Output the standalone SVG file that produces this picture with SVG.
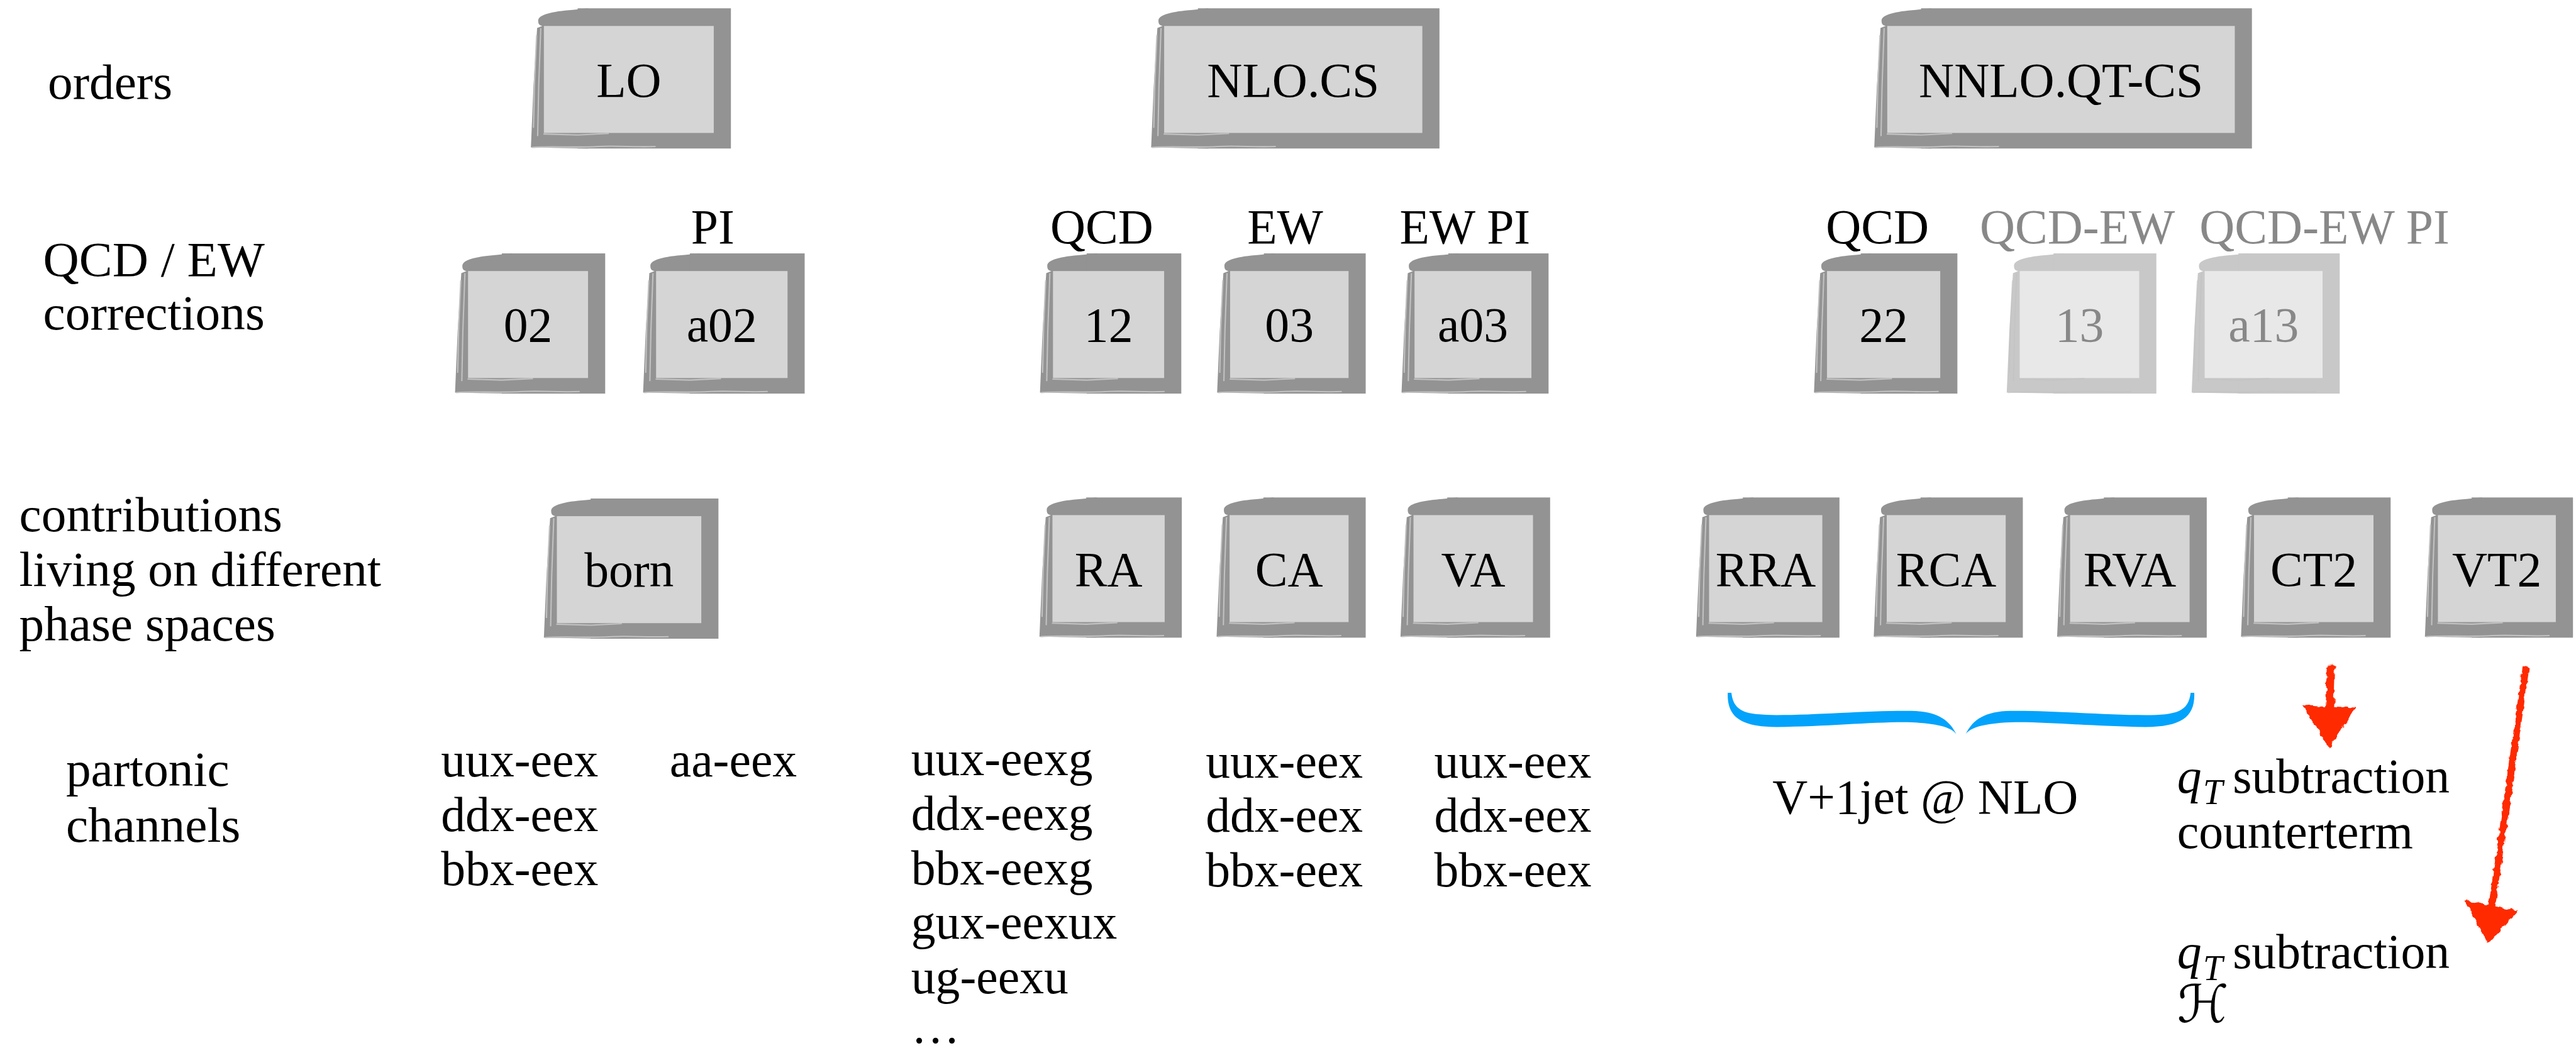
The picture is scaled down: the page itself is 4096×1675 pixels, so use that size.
<svg xmlns="http://www.w3.org/2000/svg" xmlns:xlink="http://www.w3.org/1999/xlink" width="4096" height="1675" viewBox="0 0 4096 1675">
<style>
text{font-family:"Liberation Serif","Times New Roman",serif;font-size:94px;fill:#000}
.lab{font-size:96px}
.bt{text-anchor:middle}
.fd{fill:#888}
.o{fill:#939393}
.i{fill:#d5d5d5}
.o2{fill:#c8c8c8}
.i2{fill:#e8e8e8}
.sk{fill:none;stroke:#c2c2c2;stroke-width:2.5}
.red{fill:#ff2a00}
.redl{fill:none;stroke:#ff2a00;stroke-linecap:round}
.brace{fill:#03a3fb}
</style>
<defs>
<path id="curl" d="M110,0 L80,3 C40,6 14,12 14,24 C14,30 16,33 22,34 L12,38 L5,150 L0,268 L110,270 Z"/>
<g id="skl">
<path class="sk" d="M19,38 L15,150 L13,246"/>
<path class="sk" d="M11,52 L7,140 L5,230"/>
<path class="sk" d="M2,268 C40,265 80,269 130,266 C170,264 200,268 240,266"/>
<path class="sk" d="M24,242 L90,244 L150,241"/>
</g>
<path id="hb" d="M3326,1334 C3324,1380 3350,1400 3420,1400 C3520,1399 3620,1389 3680,1391 C3730,1393 3758,1401 3766,1414 C3752,1385 3728,1370 3680,1369 C3600,1368 3500,1377 3420,1377 C3360,1377 3337,1370 3333,1334 Z"/>
<filter id="rough" x="-30%" y="-5%" width="160%" height="110%">
<feTurbulence type="fractalNoise" baseFrequency="0.09" numOctaves="2" seed="4" result="n"/>
<feDisplacementMap in="SourceGraphic" in2="n" scale="9" xChannelSelector="R" yChannelSelector="G"/>
</filter>
</defs>
<rect width="4096" height="1675" fill="#fff"/>
<g transform="scale(0.826)">
<g id="row-labels">
<text class="lab" x="92" y="190">orders</text>
<text class="lab" x="83" y="531">QCD / EW</text>
<text class="lab" x="83" y="634">corrections</text>
<text class="lab" x="37" y="1023">contributions</text>
<text class="lab" x="37" y="1128">living on different</text>
<text class="lab" x="37" y="1234">phase spaces</text>
<text class="lab" x="127" y="1513">partonic</text>
<text class="lab" x="127" y="1621">channels</text>
</g>

<!-- row 1 -->
<g id="LO" transform="translate(1022,16)"><use xlink:href="#curl" class="o"/><rect class="o" x="90" y="0" width="295" height="270"/><rect class="i" x="25" y="34" width="327" height="206"/><use xlink:href="#skl"/><text class="bt" x="188.5" y="170">LO</text></g>
<g id="NLO.CS" transform="translate(2216,16)"><use xlink:href="#curl" class="o"/><rect class="o" x="90" y="0" width="465" height="270"/><rect class="i" x="25" y="34" width="497" height="206"/><use xlink:href="#skl"/><text class="bt" x="273.5" y="170">NLO.CS</text></g>
<g id="NNLO.QT-CS" transform="translate(3608,16)"><use xlink:href="#curl" class="o"/><rect class="o" x="90" y="0" width="637" height="270"/><rect class="i" x="25" y="34" width="669" height="206"/><use xlink:href="#skl"/><text class="bt" x="359.5" y="170">NNLO.QT-CS</text></g>

<!-- row 2 labels -->
<g id="correction-labels">
<text class="bt" x="1372" y="468">PI</text>
<text class="bt" x="2121" y="468">QCD</text>
<text class="bt" x="2474" y="468">EW</text>
<text class="bt" x="2820" y="468">EW PI</text>
<text class="bt" x="3614" y="468">QCD</text>
<text class="bt fd" x="3999" y="468">QCD-EW</text>
<text x="4234" y="468" class="fd">QCD-EW PI</text>
</g>

<!-- row 2 -->
<g id="c02" transform="translate(876,488)"><use xlink:href="#curl" class="o"/><rect class="o" x="90" y="0" width="199" height="270"/><rect class="i" x="25" y="34" width="231" height="206"/><use xlink:href="#skl"/><text class="bt" x="140.5" y="169">02</text></g>
<g id="ca02" transform="translate(1238,488)"><use xlink:href="#curl" class="o"/><rect class="o" x="90" y="0" width="221" height="270"/><rect class="i" x="25" y="34" width="253" height="206"/><use xlink:href="#skl"/><text class="bt" x="151.5" y="169">a02</text></g>
<g id="c12" transform="translate(2002,488)"><use xlink:href="#curl" class="o"/><rect class="o" x="90" y="0" width="182" height="270"/><rect class="i" x="25" y="34" width="214" height="206"/><use xlink:href="#skl"/><text class="bt" x="132" y="169">12</text></g>
<g id="c03" transform="translate(2343,488)"><use xlink:href="#curl" class="o"/><rect class="o" x="90" y="0" width="196" height="270"/><rect class="i" x="25" y="34" width="228" height="206"/><use xlink:href="#skl"/><text class="bt" x="139" y="169">03</text></g>
<g id="ca03" transform="translate(2698,488)"><use xlink:href="#curl" class="o"/><rect class="o" x="90" y="0" width="193" height="270"/><rect class="i" x="25" y="34" width="225" height="206"/><use xlink:href="#skl"/><text class="bt" x="137.5" y="169">a03</text></g>
<g id="c22" transform="translate(3492,488)"><use xlink:href="#curl" class="o"/><rect class="o" x="90" y="0" width="186" height="270"/><rect class="i" x="25" y="34" width="218" height="206"/><use xlink:href="#skl"/><text class="bt" x="134" y="169">22</text></g>
<g id="c13" transform="translate(3863,488)"><use xlink:href="#curl" class="o2"/><rect class="o2" x="90" y="0" width="198" height="270"/><rect class="i2" x="25" y="34" width="230" height="206"/><use xlink:href="#skl" opacity="0.5"/><text class="bt fd" x="140" y="169">13</text></g>
<g id="ca13" transform="translate(4219,488)"><use xlink:href="#curl" class="o2"/><rect class="o2" x="90" y="0" width="195" height="270"/><rect class="i2" x="25" y="34" width="227" height="206"/><use xlink:href="#skl" opacity="0.5"/><text class="bt fd" x="138.5" y="169">a13</text></g>

<!-- row 3 -->
<g id="born" transform="translate(1047,960)"><use xlink:href="#curl" class="o"/><rect class="o" x="90" y="0" width="246" height="270"/><rect class="i" x="25" y="34" width="278" height="206"/><use xlink:href="#skl"/><text class="bt" x="164" y="170">born</text></g>
<g id="RA" transform="translate(2001,958)"><use xlink:href="#curl" class="o"/><rect class="o" x="90" y="0" width="184" height="270"/><rect class="i" x="25" y="34" width="216" height="206"/><use xlink:href="#skl"/><text class="bt" x="133" y="170">RA</text></g>
<g id="CA" transform="translate(2342,958)"><use xlink:href="#curl" class="o"/><rect class="o" x="90" y="0" width="197" height="270"/><rect class="i" x="25" y="34" width="229" height="206"/><use xlink:href="#skl"/><text class="bt" x="139.5" y="170">CA</text></g>
<g id="VA" transform="translate(2696,958)"><use xlink:href="#curl" class="o"/><rect class="o" x="90" y="0" width="198" height="270"/><rect class="i" x="25" y="34" width="230" height="206"/><use xlink:href="#skl"/><text class="bt" x="140" y="170">VA</text></g>
<g id="RRA" transform="translate(3265,958)"><use xlink:href="#curl" class="o"/><rect class="o" x="90" y="0" width="186" height="270"/><rect class="i" x="25" y="34" width="218" height="206"/><use xlink:href="#skl"/><text class="bt" x="134" y="170">RRA</text></g>
<g id="RCA" transform="translate(3607,958)"><use xlink:href="#curl" class="o"/><rect class="o" x="90" y="0" width="197" height="270"/><rect class="i" x="25" y="34" width="229" height="206"/><use xlink:href="#skl"/><text class="bt" x="139.5" y="170">RCA</text></g>
<g id="RVA" transform="translate(3960,958)"><use xlink:href="#curl" class="o"/><rect class="o" x="90" y="0" width="198" height="270"/><rect class="i" x="25" y="34" width="230" height="206"/><use xlink:href="#skl"/><text class="bt" x="140" y="170">RVA</text></g>
<g id="CT2" transform="translate(4314,958)"><use xlink:href="#curl" class="o"/><rect class="o" x="90" y="0" width="198" height="270"/><rect class="i" x="25" y="34" width="230" height="206"/><use xlink:href="#skl"/><text class="bt" x="140" y="170">CT2</text></g>
<g id="VT2" transform="translate(4668,958)"><use xlink:href="#curl" class="o"/><rect class="o" x="90" y="0" width="195" height="270"/><rect class="i" x="25" y="34" width="227" height="206"/><use xlink:href="#skl"/><text class="bt" x="138.5" y="170">VT2</text></g>

<!-- channels -->
<g id="channels-LO">
<text x="849" y="1495">uux-eex</text>
<text x="849" y="1600">ddx-eex</text>
<text x="849" y="1705">bbx-eex</text>
<text x="1289" y="1495">aa-eex</text>
</g>
<g id="channels-RA">
<text x="1754" y="1493">uux-eexg</text>
<text x="1754" y="1598">ddx-eexg</text>
<text x="1754" y="1703">bbx-eexg</text>
<text x="1754" y="1808">gux-eexux</text>
<text x="1754" y="1913">ug-eexu</text>
<text x="1754" y="2008">…</text>
</g>
<g id="channels-CA">
<text x="2321" y="1497">uux-eex</text>
<text x="2321" y="1602">ddx-eex</text>
<text x="2321" y="1707">bbx-eex</text>
</g>
<g id="channels-VA">
<text x="2761" y="1497">uux-eex</text>
<text x="2761" y="1602">ddx-eex</text>
<text x="2761" y="1707">bbx-eex</text>
</g>
<g id="nnlo-notes">
<text x="3412" y="1567">V+1jet @ NLO</text>
<text x="4191" y="1527"><tspan font-style="italic">q</tspan><tspan x="4241" font-style="italic" font-size="68" dy="22">T</tspan><tspan x="4298" dy="-22">subtraction</tspan></text>
<text x="4191" y="1633">counterterm</text>
<text x="4191" y="1865"><tspan font-style="italic">q</tspan><tspan x="4241" font-style="italic" font-size="68" dy="22">T</tspan><tspan x="4298" dy="-22">subtraction</tspan></text>
<text x="4191" y="1968" style="font-family:'DejaVu Serif','DejaVu Sans',serif;font-style:italic;font-size:100px">ℋ</text>
</g>

<g id="connectors">
<g id="brace" class="brace">
<use xlink:href="#hb"/>
<use xlink:href="#hb" transform="translate(7550,0) scale(-1,1)"/>
</g>
<g id="arrows" filter="url(#rough)">
<path class="redl" d="M4487,1288 L4485,1372" stroke-width="16"/>
<polygon class="red" points="4432,1357 4535,1363 4484,1440"/>
<path class="redl" d="M4862,1288 L4797,1745" stroke-width="13"/>
<polygon class="red" points="4745,1734 4847,1754 4790,1818"/>
</g>
</g>
</g>
</svg>
